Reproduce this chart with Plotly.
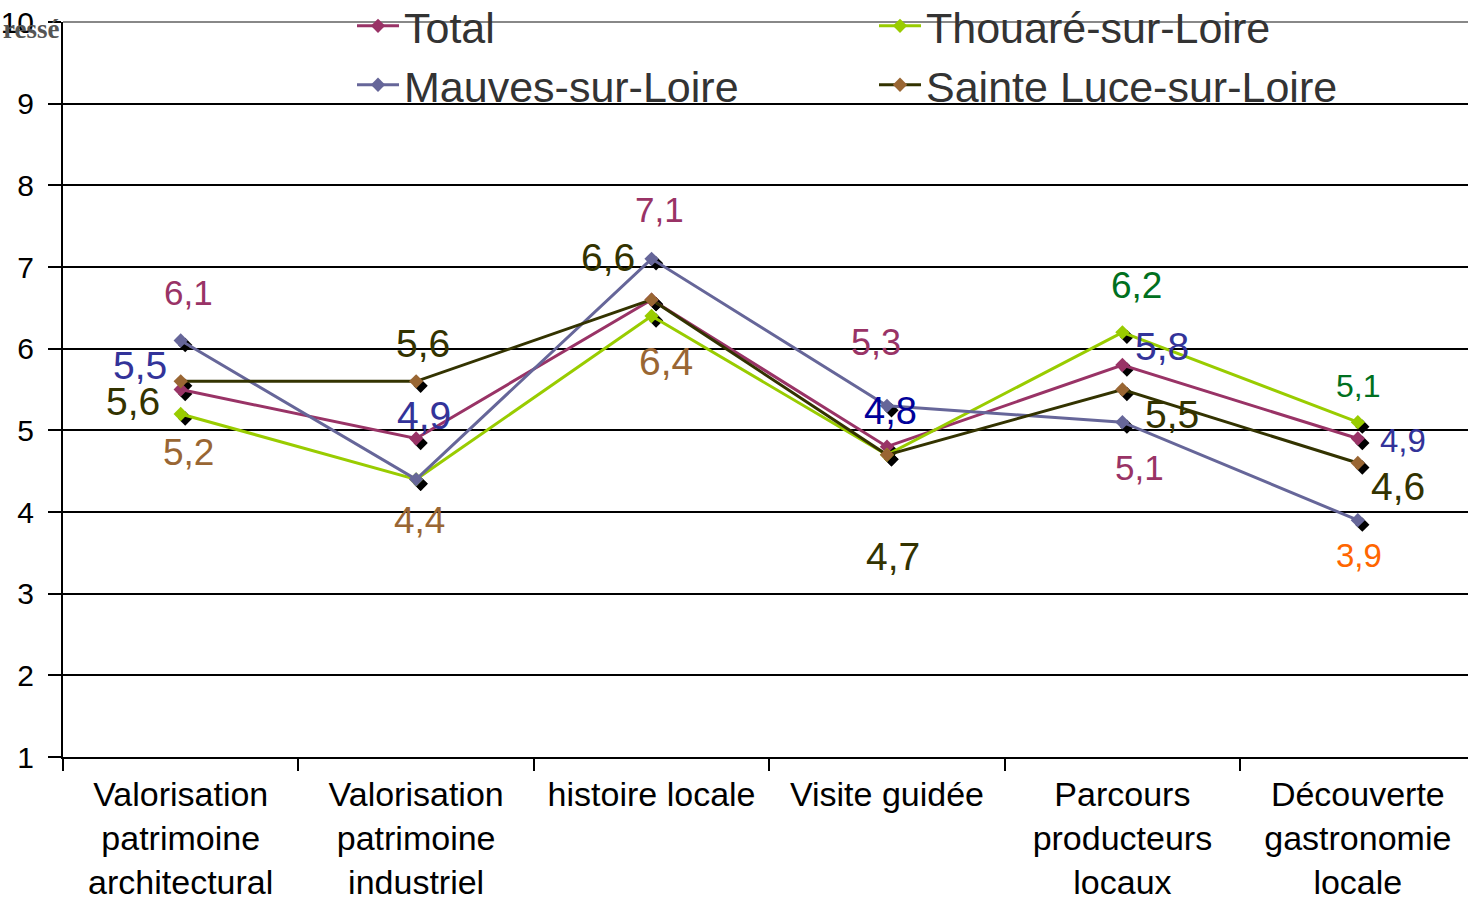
import plotly.graph_objects as go

# ---- data ----
categories = [
    "Valorisation<br>patrimoine<br>architectural",
    "Valorisation<br>patrimoine<br>industriel",
    "histoire locale",
    "Visite guidée",
    "Parcours<br>producteurs<br>locaux",
    "Découverte<br>gastronomie<br>locale",
]
series_names = ["Total", "Thouaré-sur-Loire", "Mauves-sur-Loire", "Sainte Luce-sur-Loire"]
total = [5.5, 4.9, 6.6, 4.8, 5.8, 4.9]
thouare = [5.2, 4.4, 6.4, 4.7, 6.2, 5.1]
mauves = [6.1, 4.4, 7.1, 5.3, 5.1, 3.9]
sainte_luce = [5.6, 5.6, 6.6, 4.7, 5.5, 4.6]
y_tick_values = [1, 2, 3, 4, 5, 6, 7, 8, 9, 10]

# free-floating value labels (text as shown in the chart)
label_texts = ["6,1", "5,5", "5,6", "5,2", "5,6", "4,9", "4,4", "7,1", "6,6", "6,4",
               "5,3", "4,8", "4,7", "6,2", "5,8", "5,5", "5,1", "5,1", "4,9", "4,6", "3,9"]

# ---- layout / style ----
label_pos = [(0.031, 6.69), (-0.173, 5.79), (-0.203, 5.35), (0.031, 4.73), (1.029, 6.06),
             (1.033, 5.18), (1.016, 3.90), (2.035, 7.71), (1.814, 7.12), (2.06, 5.84),
             (2.952, 6.08), (3.016, 5.24), (3.024, 3.46), (4.06, 6.77), (4.167, 6.03),
             (4.209, 5.20), (4.073, 4.55), (4.999, 5.54), (5.19, 4.88), (5.169, 4.31),
             (5.003, 3.47)]
MAROON, BLUE, OLIVE, BROWN, NAVY, GREEN, ORANGE = (
    "#993366", "#333399", "#333300", "#996633", "#000099", "#007020", "#FF6600")
label_colors = [MAROON, BLUE, OLIVE, BROWN, OLIVE, BLUE, BROWN, MAROON, OLIVE, BROWN,
                MAROON, NAVY, OLIVE, GREEN, BLUE, OLIVE, MAROON, GREEN, BLUE, OLIVE, ORANGE]
label_sizes = [35, 39, 39, 37, 39, 39, 37, 35, 39, 39,
               36, 38, 39, 37, 39, 39, 35, 32, 33, 39, 33]

line_colors = ["#993366", "#99CC00", "#666699", "#333300"]
marker_colors = ["#993366", "#99CC00", "#666699", "#996633"]

FONT = "Liberation Sans, Arial, sans-serif"
W, H = 1468, 900
ML, MR, MT, MB = 63, 0, 22, 143
x_range = [-0.5, 5.468]
y_range = [1, 10]
plot_w = W - ML - MR
plot_h = H - MT - MB
# shadow offset (pixels) converted to axis units
sdx = 4.5 * (x_range[1] - x_range[0]) / plot_w
sdy = 4.5 * (y_range[1] - y_range[0]) / plot_h

all_series = [total, thouare, mauves, sainte_luce]

fig = go.Figure()

# marker shadows (drawn underneath)
for vals in all_series:
    fig.add_trace(go.Scatter(
        x=categories, y=vals, mode="markers", xaxis="x2", yaxis="y2",
        marker=dict(symbol="diamond", size=11, color="black"),
        showlegend=False, hoverinfo="skip"))

# main series
for name, vals, lc, mc in zip(series_names, all_series, line_colors, marker_colors):
    fig.add_trace(go.Scatter(
        x=categories, y=vals, mode="lines+markers", name=name,
        xaxis="x3", yaxis="y3",
        line=dict(color=lc, width=3),
        marker=dict(symbol="diamond", size=11, color=mc)))

annotations = []
for t, (ax, ay), c, s in zip(label_texts, label_pos, label_colors, label_sizes):
    annotations.append(dict(x=ax, y=ay, xref="x", yref="y", text=t, showarrow=False,
                            font=dict(family=FONT, size=s, color=c),
                            xanchor="center", yanchor="middle"))
annotations.append(dict(x=-0.0015, y=0.991, xref="paper", yref="paper", text="<b>ressé</b>",
                        showarrow=False, xanchor="right", yanchor="middle",
                        font=dict(family="Liberation Serif, DejaVu Serif, serif", size=27,
                                  color="#555555")))

hidden = dict(visible=False, showgrid=False, zeroline=False)
fig.update_layout(
    width=W, height=H,
    margin=dict(l=ML, r=MR, t=MT, b=MB, pad=0, autoexpand=False),
    paper_bgcolor="white", plot_bgcolor="white",
    font=dict(family=FONT, color="black"),
    xaxis=dict(type="category", categoryarray=categories, range=x_range,
               showgrid=False, zeroline=False, showline=True, linecolor="black", linewidth=2,
               ticks="outside", tickson="boundaries", ticklen=12, tickwidth=1.5,
               tickcolor="black", ticklabelstandoff=6,
               tickfont=dict(size=34, color="black")),
    yaxis=dict(range=y_range, tickvals=y_tick_values, showgrid=True, gridcolor="black",
               gridwidth=1.5, zeroline=False, showline=True, linecolor="black", linewidth=2,
               ticks="outside", ticklen=13, tickwidth=1.5, tickcolor="black",
               ticklabelstandoff=8, tickfont=dict(size=30, color="black")),
    xaxis2=dict(type="category", categoryarray=categories, overlaying="x",
                range=[x_range[0] - sdx, x_range[1] - sdx], **hidden),
    yaxis2=dict(overlaying="y", range=[y_range[0] + sdy, y_range[1] + sdy], **hidden),
    xaxis3=dict(type="category", categoryarray=categories, overlaying="x",
                range=x_range, **hidden),
    yaxis3=dict(overlaying="y", range=y_range, **hidden),
    legend=dict(orientation="h", x=0.2057, y=1.0416, xanchor="left", yanchor="top",
                bgcolor="rgba(0,0,0,0)", font=dict(size=43, color="#333333", family=FONT),
                entrywidth=465, itemwidth=42, traceorder="normal", tracegroupgap=0),
    annotations=annotations,
    shapes=[dict(type="line", xref="paper", yref="paper", x0=0, x1=1, y0=1, y1=1,
                 line=dict(color="#888888", width=2), layer="above")],
)

fig.write_html("out.html", config={"displayModeBar": False},
               post_script="document.body.style.margin='0';")
